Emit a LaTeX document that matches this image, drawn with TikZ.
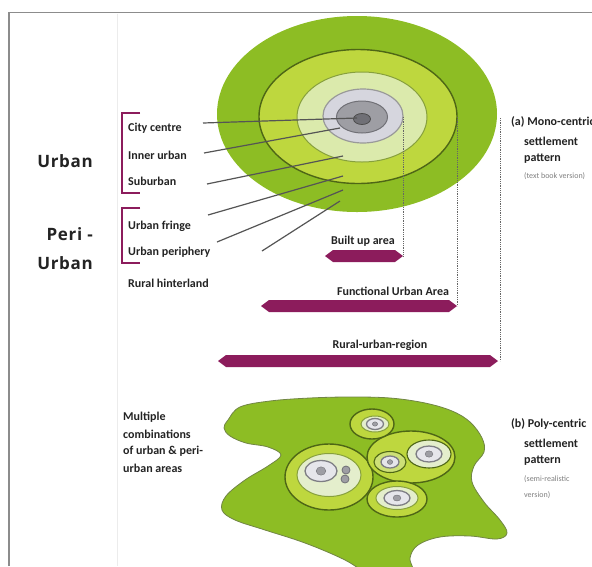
\documentclass[tikz,border=0pt]{standalone}
\usepackage{fontspec}
\setmainfont{Carlito}
\newfontfamily\bigfont[LetterSpace=4]{Open Sans}
\definecolor{gouter}{RGB}{141,189,36}
\definecolor{gmid}{RGB}{190,215,62}
\definecolor{gpale}{RGB}{219,234,172}
\definecolor{gpaleb}{RGB}{228,238,204}
\definecolor{olive}{RGB}{78,102,22}
\definecolor{oliveL}{RGB}{135,160,60}
\definecolor{grl}{RGB}{214,214,222}
\definecolor{grm}{RGB}{158,158,164}
\definecolor{grd}{RGB}{112,112,118}
\definecolor{barc}{RGB}{140,28,92}
\definecolor{leader}{RGB}{85,85,85}
\definecolor{txt}{RGB}{35,35,35}
\definecolor{framec}{RGB}{140,140,140}
\tikzset{
 lbl/.style={anchor=west, inner sep=0pt, text=txt, font=\fontsize{12}{14}\selectfont\bfseries},
 clbl/.style={lbl, anchor=center},
 smalllbl/.style={anchor=west, inner sep=0pt, text=gray, font=\fontsize{8}{10}\selectfont},
 biglbl/.style={anchor=east, inner sep=0pt, text=txt, font=\bigfont\fontsize{17}{20}\selectfont\bfseries},
 leaderline/.style={draw=leader, line width=1.2pt},
 dotline/.style={draw=gray!80!black, line width=0.8pt, densely dotted},
 brk/.style={draw=barc, line width=2.4pt},
 ring/.style={line width=1.4pt},
}
\newcommand{\regionbar}[4]{%
 \path[fill=barc] (#2,#4) -- (#2+8,#4-6) -- (#3-8,#4-6) -- (#3,#4) -- (#3-8,#4+6) -- (#2+8,#4+6) -- cycle;
 \coordinate (#1) at (#3,#4);}
\newcommand{\eyemark}[4]{% x y rx ry
 \path[fill=grl!60!white, draw=grd!90, line width=1.3pt] (#1,#2) ellipse [x radius=#3, y radius=#4];
 \path[fill=grm, draw=grd] (#1,#2) ellipse [x radius=#3*0.3, y radius=#4*0.4];}
\begin{document}
\begin{tikzpicture}[x=1pt,y=-1pt]
\useasboundingbox (0,0) rectangle (592,566);
\fill[white] (0,0) rectangle (592,566);
% frame
\draw[framec, line width=1.3pt] (9,566) -- (9,12.5) -- (592,12.5);
\draw[gray!15, line width=0.8pt] (117,13.5) -- (117,566);

% mono-centric ellipse
\path[fill=gouter] (357,114) ellipse [x radius=140, y radius=98];
\path[fill=gmid, draw=olive, ring] (358,116.5) ellipse [x radius=99, y radius=67];
\path[fill=gpale, draw=oliveL, line width=1pt] (362,117) ellipse [x radius=65, y radius=45];
\path[fill=grl, draw=gray!80, line width=1.2pt] (363,116) ellipse [x radius=40, y radius=27];
\path[fill=grm, draw=grd, line width=1pt] (362,117) ellipse [x radius=25.5, y radius=16];
\path[fill=grd, draw=gray!60!black, line width=0.8pt] (362,119) ellipse [x radius=8.5, y radius=5.5];

% leader lines
\coordinate (s1) at (203,123); \coordinate (e1) at (357,118);
\coordinate (s2) at (204,153); \coordinate (e2) at (340,128);
\coordinate (s3) at (207,184); \coordinate (e3) at (343,156);
\coordinate (s4) at (208,215); \coordinate (e4) at (343,176);
\coordinate (s5) at (217,242); \coordinate (e5) at (343,190);
\coordinate (s6) at (262,251); \coordinate (e6) at (340,201);
\foreach \i in {1,...,6} {\draw[leaderline] (s\i) -- (e\i);}

% labels left
\node[lbl] (cc) at (128,128) {City centre};
\node[lbl] (iu) at (128,155) {Inner urban};
\node[lbl] (su) at (128,181) {Suburban};
\node[lbl] (uf) at (128,226) {Urban fringe};
\node[lbl] (up) at (128,252) {Urban periphery};
\node[lbl] (rh) at (128,283) {Rural hinterland};
\draw[brk] (140,113) -- (122,113) -- (122,193) -- (140,193);
\draw[brk] (140,208) -- (122,208) -- (122,263) -- (140,263);

\node[biglbl] (urb) at (93,161) {Urban};
\node[biglbl] (peri) at (93,234) {Peri -};
\node[biglbl] (urb2) at (93,263) {Urban};

% bars
\regionbar{b1}{325}{403}{256}
\regionbar{b2}{261}{457}{306}
\regionbar{b3}{218}{498}{361}
\node[clbl] (t1) at (363,241) {Built up area};
\node[clbl] (t2) at (393,291) {Functional Urban Area};
\node[clbl] (t3) at (380,345) {Rural-urban-region};
\coordinate (d1) at (403,117);
\coordinate (d2) at (457,117);
\coordinate (d3) at (500,118);
\draw[dotline] (d1) -- (b1);
\draw[dotline] (d2) -- (b2);
\draw[dotline] (d3) -- (b3 -| d3);

% right labels (a)
\node[lbl] (a1) at (511,122) {(a) Mono-centric};
\node[lbl] (a2) at (524,141) {settlement};
\node[lbl] (a3) at (524,159) {pattern};
\node[smalllbl] (a4) at (524,176) {(text book version)};

% poly-centric
\draw[fill=gouter, draw=olive!80, line width=0.8pt] plot[smooth cycle, tension=0.6] coordinates {
 (228,420) (240,407) (270,401) (310,398) (350,397) (390,398) (425,403) (452,411) (470,422) (482,438) (484,452) (474,466) (472,482) (484,502) (500,520) (507,533) (497,539) (470,536) (440,537) (418,545) (410,558) (412,575) (380,580) (345,560) (305,543) (265,530) (235,520) (222,510) (226,496) (245,480) (268,466) (281,455) (268,447) (246,443) (230,436) (224,428)};

% big left
\path[fill=gmid, draw=olive, ring] (329,477) ellipse [x radius=44, y radius=33];
\path[fill=gpaleb, draw=oliveL, line width=1pt] (329,475) ellipse [x radius=32, y radius=21.5];
\eyemark{321}{471}{16}{10.5}
\path[fill=grm, draw=grd, line width=0.8pt] (346,470) circle [radius=4];
\path[fill=grm, draw=grd, line width=0.8pt] (345,479) circle [radius=4];
% right top
\path[fill=gmid, draw=olive, ring] (411,457) ellipse [x radius=44, y radius=26];
\path[fill=gmid!60!gpaleb, draw=olive, line width=1.1pt] (390,462) ellipse [x radius=16, y radius=10.5];
\eyemark{390}{462}{9}{6}
\path[fill=gpaleb, draw=olive, line width=1.1pt] (429,454) ellipse [x radius=22, y radius=14];
\eyemark{429}{454}{13}{8}
% bottom middle
\path[fill=gmid, draw=olive, ring] (397,499) ellipse [x radius=30, y radius=18];
\path[fill=gpaleb, draw=oliveL, line width=1pt] (397,498) ellipse [x radius=21, y radius=11.5];
\eyemark{397}{498}{13}{7.5}
% top small
\path[fill=gmid, draw=olive, ring] (372,424) ellipse [x radius=22, y radius=15];
\path[fill=gpaleb, draw=oliveL, line width=1pt] (375,424) ellipse [x radius=14, y radius=8];
\eyemark{375}{424}{8.5}{5.5}

% left text (b)
\node[lbl] (m1) at (123,417) {Multiple};
\node[lbl] (m2) at (123,434) {combinations};
\node[lbl] (m3) at (123,451) {of urban \& peri-};
\node[lbl] (m4) at (123,468) {urban areas};

% right labels (b)
\node[lbl] (p1) at (511,424) {(b) Poly-centric};
\node[lbl] (p2) at (524,443) {settlement};
\node[lbl] (p3) at (524,461) {pattern};
\node[smalllbl] (p4) at (524,479) {(semi-realistic};
\node[smalllbl] (p5) at (524,495) {version)};
\end{tikzpicture}
\end{document}
